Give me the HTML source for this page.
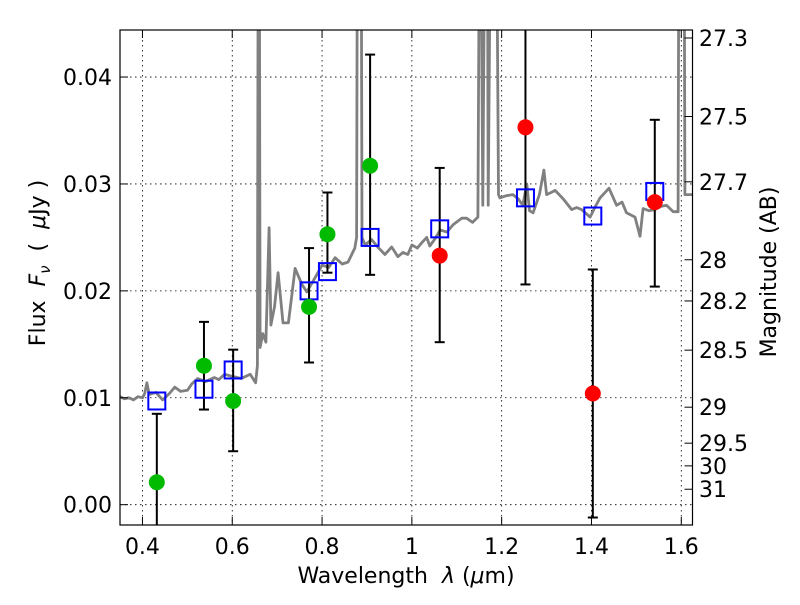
<!DOCTYPE html>
<html><head><meta charset="utf-8"><style>
body{margin:0;background:#fff;}
svg text{font-family:"DejaVu Sans","Liberation Sans",sans-serif;fill:#000;}
</style></head><body>
<svg id="chart" width="800" height="600" xmlns="http://www.w3.org/2000/svg">
<defs><clipPath id="clip"><rect x="120" y="30" width="572.5" height="495"/></clipPath></defs>
<rect x="0" y="0" width="800" height="600" fill="#fff"/>
<g id="grid"></g>
<g id="spec" clip-path="url(#clip)"></g>
<g id="marks" clip-path="url(#clip)"></g>
<rect x="120" y="30" width="572.5" height="495" fill="none" stroke="#000" stroke-width="1.2"/>
<g id="axes"></g>
<text x="406" y="583" font-size="22" text-anchor="middle">Wavelength&#160;&#160;<tspan font-style="italic">λ</tspan>&#160;(<tspan font-style="italic">μ</tspan>m)</text>
<text transform="translate(45,263) rotate(-90)" font-size="22" text-anchor="middle">Flux&#160;&#160;<tspan font-style="italic">F</tspan><tspan font-style="italic" font-size="15" dy="5">ν</tspan><tspan dy="-5">&#160;&#160;(&#160;&#160;</tspan><tspan font-style="italic">μ</tspan>Jy&#160;)</text>
<text transform="translate(776,272) rotate(-90)" font-size="22" text-anchor="middle">Magnitude (AB)</text>
</svg>
<script>
const xTicks=[0.4,0.6,0.8,1.0,1.2,1.4,1.6];
const xTickLabels=["0.4","0.6","0.8","1","1.2","1.4","1.6"];
const yTicks=[0,0.01,0.02,0.03,0.04];
const yTickLabels=["0.00","0.01","0.02","0.03","0.04"];
const magTicks=[27.3,27.5,27.7,28,28.2,28.5,29,29.5,30,31];
const magTickLabels=["27.3","27.5","27.7","28","28.2","28.5","29","29.5","30","31"];
const specWave=[0.35,0.36,0.37,0.38,0.39,0.40,0.405,0.41,0.415,0.43,0.445,0.46,0.472,0.485,0.50,0.51,0.523,0.54,0.56,0.57,0.583,0.60,0.62,0.64,0.652,0.656,0.658,0.66,0.662,0.668,0.675,0.682,0.686,0.694,0.702,0.713,0.725,0.74,0.755,0.766,0.784,0.80,0.815,0.829,0.845,0.858,0.873,0.877,0.879,0.887,0.889,0.896,0.91,0.924,0.94,0.955,0.969,0.98,0.991,1.0,1.012,1.022,1.033,1.040,1.052,1.063,1.078,1.092,1.111,1.122,1.135,1.147,1.151,1.153,1.158,1.163,1.168,1.17,1.176,1.18,1.188,1.193,1.196,1.21,1.225,1.237,1.247,1.256,1.262,1.27,1.284,1.294,1.30,1.31,1.319,1.337,1.356,1.367,1.378,1.397,1.41,1.419,1.439,1.456,1.468,1.478,1.497,1.508,1.515,1.528,1.541,1.555,1.567,1.582,1.593,1.595,1.606,1.608,1.61,1.625];
const specFlux=[0.0101,0.0099,0.0100,0.0098,0.0101,0.0100,0.0104,0.0114,0.0103,0.0105,0.0098,0.0104,0.0110,0.0106,0.0107,0.0113,0.0118,0.0115,0.0119,0.0117,0.0122,0.0120,0.0118,0.0122,0.0114,0.0130,0.0600,0.0600,0.0147,0.0160,0.0152,0.0259,0.0168,0.0185,0.0217,0.0170,0.0170,0.0221,0.0206,0.0199,0.0212,0.0224,0.0222,0.0231,0.0225,0.0227,0.0240,0.0250,0.0600,0.0600,0.0250,0.0243,0.0248,0.0241,0.0234,0.0241,0.0232,0.0236,0.0234,0.0243,0.0240,0.0245,0.0250,0.0242,0.0249,0.0257,0.0255,0.0262,0.0268,0.0268,0.0264,0.0269,0.0600,0.0600,0.0280,0.0600,0.0600,0.0280,0.0600,0.0600,0.0600,0.0290,0.0287,0.0289,0.0290,0.0286,0.0280,0.0300,0.0275,0.0273,0.0290,0.0313,0.0290,0.0292,0.0294,0.0286,0.0276,0.0278,0.0276,0.0269,0.0280,0.0287,0.0296,0.0280,0.0283,0.0273,0.0269,0.0251,0.0277,0.0275,0.0276,0.0279,0.0280,0.0274,0.0274,0.0600,0.0600,0.0290,0.0290,0.0290];
const greenWave=[0.432,0.537,0.602,0.771,0.812,0.907];
const greenFlux=[0.0021,0.0130,0.0097,0.0185,0.0253,0.0317];
const greenErrLo=[-0.01,0.0089,0.0050,0.0133,0.0217,0.0215];
const greenErrHi=[0.0085,0.0171,0.0145,0.0240,0.0292,0.0421];
const redWave=[1.062,1.253,1.403,1.541];
const redFlux=[0.0233,0.0353,0.0104,0.0283];
const redErrLo=[0.0152,0.0206,-0.0012,0.0204];
const redErrHi=[0.0315,0.0600,0.0220,0.0360];
const modelWave=[0.432,0.537,0.602,0.771,0.812,0.907,1.062,1.253,1.403,1.541];
const modelFlux=[0.0097,0.0108,0.0126,0.0200,0.0218,0.0250,0.0258,0.0287,0.0270,0.0293];

const X0=0.35,X1=1.625,PX0=120,PX1=692.5;
const Y0=-0.0019,Y1=0.0444,PY0=525,PY1=30;
function sx(v){return PX0+(v-X0)/(X1-X0)*(PX1-PX0);}
function sy(v){return PY0-(v-Y0)/(Y1-Y0)*(PY0-PY1);}
function mag2flux(m){return Math.pow(10,(23.9-m)/2.5);}
const NS="http://www.w3.org/2000/svg";
function mk(tag,attrs,parent){const e=document.createElementNS(NS,tag);for(const k in attrs)e.setAttribute(k,attrs[k]);parent.appendChild(e);return e;}
const grid=document.getElementById('grid'),axes=document.getElementById('axes'),spec=document.getElementById('spec'),marks=document.getElementById('marks');

xTicks.forEach((t,i)=>{const x=sx(t);
 const g=mk('line',{x1:x,x2:x,y1:30,y2:525,stroke:'#000','stroke-width':0.8,'stroke-dasharray':'1.5,3.5'},grid);
 
 
 mk('line',{x1:x,x2:x,y1:525,y2:517,stroke:'#000','stroke-width':1},axes);
 mk('line',{x1:x,x2:x,y1:30,y2:38,stroke:'#000','stroke-width':1},axes);
 const tx=mk('text',{x:x,y:554,'font-size':22,'text-anchor':'middle'},axes);tx.textContent=xTickLabels[i];
 
 
});
yTicks.forEach((t,i)=>{const y=sy(t);
 const g=mk('line',{x1:120,x2:692.5,y1:y,y2:y,stroke:'#000','stroke-width':0.8,'stroke-dasharray':'1.5,3.5'},grid);
 
 
 mk('line',{x1:120,x2:128,y1:y,y2:y,stroke:'#000','stroke-width':1},axes);
 const tx=mk('text',{x:112,y:y+8,'font-size':22,'text-anchor':'end'},axes);tx.textContent=yTickLabels[i];
 
 
});
magTicks.forEach((m,i)=>{const y=sy(mag2flux(m));
 mk('line',{x1:684.5,x2:692.5,y1:y,y2:y,stroke:'#000','stroke-width':1},axes);
 const tx=mk('text',{x:699,y:y+8,'font-size':22,'text-anchor':'start'},axes);tx.textContent=magTickLabels[i];
 
 
});

let d='';specWave.forEach((w,i)=>{d+=(i?'L':'M')+sx(w).toFixed(1)+','+sy(specFlux[i]).toFixed(1);});
const sp=mk('path',{d:d,fill:'none',stroke:'#808080','stroke-width':2.8,'stroke-linejoin':'round'},spec);



function errbar(w,lo,hi){const x=sx(w);
 const l=mk('line',{x1:x,x2:x,y1:sy(lo),y2:sy(hi),stroke:'#000','stroke-width':2},marks);
 
 
 [lo,hi].forEach(v=>{mk('line',{x1:x-5,x2:x+5,y1:sy(v),y2:sy(v),stroke:'#000','stroke-width':2},marks);});
}
greenWave.forEach((w,i)=>errbar(w,greenErrLo[i],greenErrHi[i]));
redWave.forEach((w,i)=>errbar(w,redErrLo[i],redErrHi[i]));
modelWave.forEach((w,i)=>{
 const r=mk('rect',{x:sx(w)-8.5,y:sy(modelFlux[i])-8.5,width:17,height:17,fill:'none',stroke:'#0000ff','stroke-width':2},marks);
 
 
});
greenWave.forEach((w,i)=>{
 const c=mk('circle',{cx:sx(w),cy:sy(greenFlux[i]),r:8,fill:'#00bb00'},marks);
 
 
});
redWave.forEach((w,i)=>{
 const c=mk('circle',{cx:sx(w),cy:sy(redFlux[i]),r:8,fill:'#ff0000'},marks);
 
 
});
</script>
</body></html>
